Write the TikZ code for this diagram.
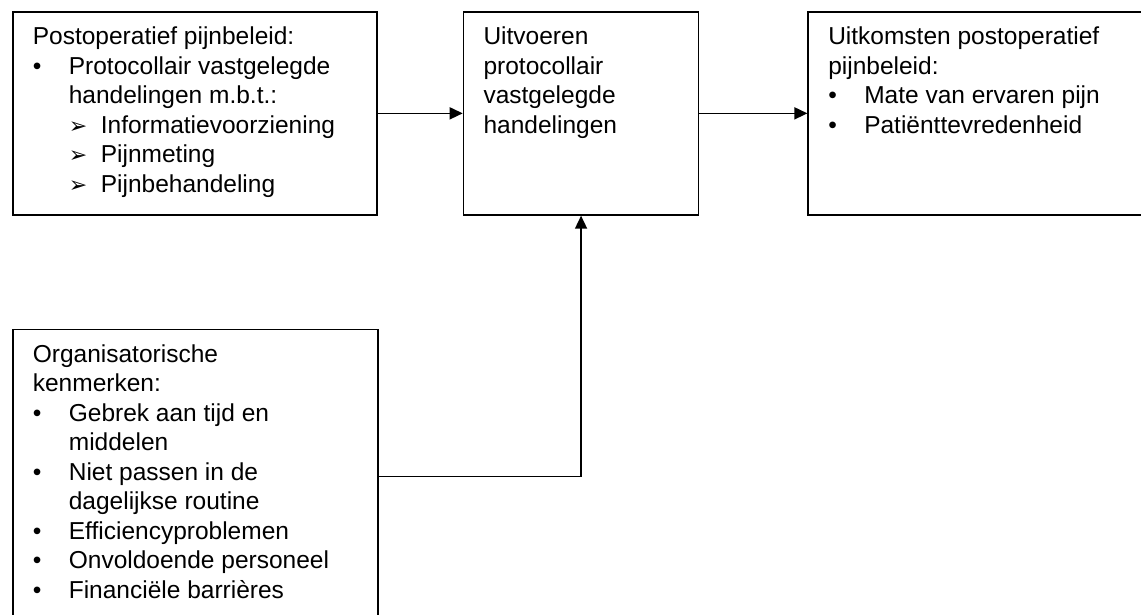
\documentclass[tikz,border=0pt]{standalone}
\usepackage{fontspec}
\setmainfont{Liberation Sans}
\newfontfamily\symfont{DejaVu Sans}
\usetikzlibrary{arrows.meta, positioning}
\newcommand{\punt}[1]{\par\hangindent=36bp\hangafter=1\noindent\makebox[36bp][l]{•}#1}
\newcommand{\pijl}[1]{\par\hangindent=68bp\hangafter=1\noindent\hspace*{36bp}\makebox[32bp][l]{\symfont\fontsize{22bp}{22bp}\selectfont ➢}#1}
\newcommand{\vak}[3]{\begin{minipage}[t][#2][t]{#1}\raggedright #3\end{minipage}}

\begin{document}
\begin{tikzpicture}[x=1bp, y=1bp,
    box/.style={draw, line width=1.7bp, inner xsep=20bp, inner ysep=15bp, font=\fontsize{24.5bp}{29.5bp}\selectfont},
    arr/.style={line width=1.6bp, -{Triangle[length=13bp, width=12bp]}}]
    \clip (0,0) rectangle (1141,-615);
    \node[box, anchor=north west] (pijnbeleid) at (12,-11) {\vak{324bp}{173bp}{Postoperatief pijnbeleid:
        \punt{Protocollair vastgelegde\newline handelingen m.b.t.:}
        \pijl{Informatievoorziening}
        \pijl{Pijnmeting}
        \pijl{Pijnbehandeling}}};
    \node[box, right=85bp of pijnbeleid] (uitvoeren) {\vak{195bp}{173bp}{Uitvoeren\\protocollair\\vastgelegde\\handelingen}};
    \node[box, right=108bp of uitvoeren] (uitkomsten) {\vak{315bp}{173bp}{Uitkomsten postoperatief\\pijnbeleid:
        \punt{Mate van ervaren pijn}
        \punt{Patiënttevredenheid}}};
    \node[box, below=113bp of pijnbeleid.south west, anchor=north west] (kenmerken) {\vak{325bp}{264bp}{Organisatorische\\kenmerken:
        \punt{Gebrek aan tijd en\newline middelen}
        \punt{Niet passen in de\newline dagelijkse routine}
        \punt{Efficiencyproblemen}
        \punt{Onvoldoende personeel}
        \punt{Financiële barrières}}};
    \draw[arr] (pijnbeleid) -- (uitvoeren);
    \draw[arr] (uitvoeren) -- (uitkomsten);
    \draw[arr] (kenmerken.east) -| (uitvoeren.south);
\end{tikzpicture}
\end{document}
